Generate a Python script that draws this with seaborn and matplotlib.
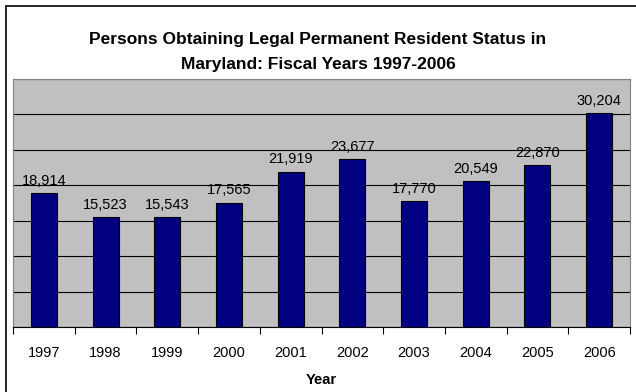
import matplotlib
matplotlib.use("Agg")
import matplotlib.pyplot as plt
import seaborn as sns
import pandas as pd
from matplotlib.lines import Line2D

years = ["1997", "1998", "1999", "2000", "2001", "2002", "2003", "2004", "2005", "2006"]
persons = [18914, 15523, 15543, 17565, 21919, 23677, 17770, 20549, 22870, 30204]
title = "Persons Obtaining Legal Permanent Resident Status in\nMaryland: Fiscal Years 1997-2006"
xlabel = "Year"

df = pd.DataFrame({"Year": years, "Persons": persons})

sns.set_theme(style="white")
plt.rcParams["font.family"] = ["Liberation Sans", "DejaVu Sans"]
plt.rcParams["text.color"] = "black"
plt.rcParams["axes.labelcolor"] = "black"
plt.rcParams["xtick.color"] = "black"

W, H = 636, 392
fig = plt.figure(figsize=(W / 100, H / 100), dpi=100)
fig.patch.set_facecolor("white")
ax = fig.add_axes([13 / W, 1 - 327 / H, (630 - 13) / W, (327 - 79) / H])
ax.set_facecolor("#c0c0c0")

sns.barplot(data=df, x="Year", y="Persons", ax=ax, color="#000080",
            saturation=1, width=0.42, edgecolor="black", linewidth=0.8, zorder=3)

ax.set_ylim(0, 35000)
ax.set_xlim(-0.5, len(years) - 0.5)
ax.set_yticks(range(0, 35001, 5000))
ax.yaxis.grid(True, color="black", linewidth=0.8, zorder=1)
ax.set_axisbelow(True)
ax.tick_params(axis="y", left=False, labelleft=False)

# x ticks between categories, labels at centers
ax.set_xticks([i - 0.5 for i in range(len(years) + 1)], minor=False)
ax.set_xticklabels([])
ax.set_xticks(range(len(years)), minor=True)
ax.set_xticklabels(years, minor=True, fontsize=10.5, color="black")
ax.tick_params(axis="x", which="major", direction="out", length=5, width=0.8, color="black", bottom=True)
ax.tick_params(axis="x", which="minor", length=0, pad=14)

for s in ["top", "right", "left"]:
    ax.spines[s].set_color("#808080")
    ax.spines[s].set_linewidth(0.8)
ax.spines["bottom"].set_color("black")
ax.spines["bottom"].set_linewidth(0.8)

for i, v in enumerate(persons):
    ax.text(i, v + 750, f"{v:,}", ha="center", va="bottom", fontsize=10.5, color="black", zorder=4)

ax.set_ylabel("")
ax.set_xlabel(xlabel, fontsize=10.5, fontweight="bold", labelpad=9, color="black")

fig.text(0.5, 1 - 52 / H, title, ha="center", va="center", fontsize=12.5,
         fontweight="bold", linespacing=1.85, color="black")

# figure border (left and top visible)
fig.add_artist(Line2D([6 / W, 6 / W], [0, 1 - 6 / H], transform=fig.transFigure, color="black", linewidth=1.2))
fig.add_artist(Line2D([6 / W, 1], [1 - 6 / H, 1 - 6 / H], transform=fig.transFigure, color="black", linewidth=1.2))

fig.savefig("out.png", dpi=100)
